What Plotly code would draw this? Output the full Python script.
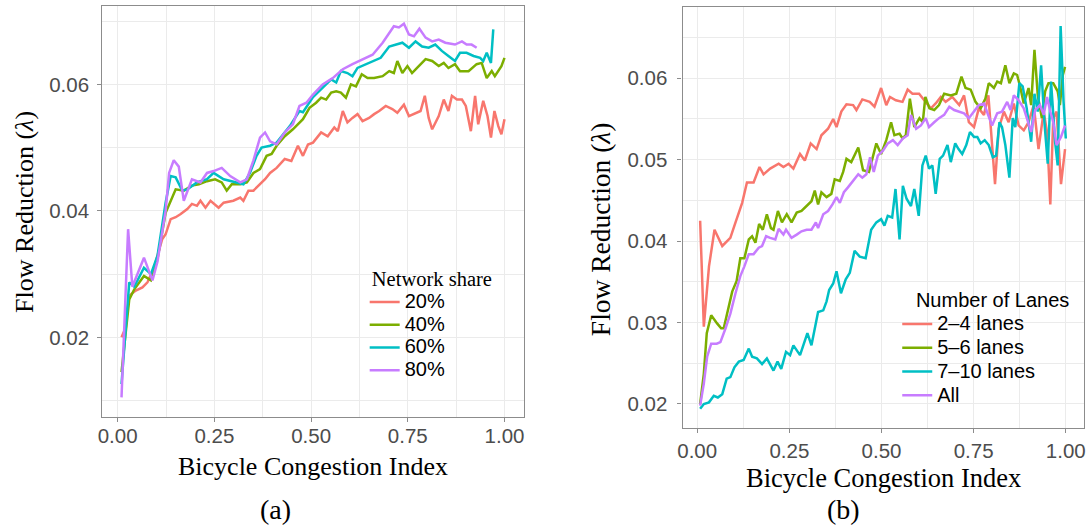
import plotly.graph_objects as go

# ---------------- data: panel (a) ----------------
x20 = [0.010,0.019,0.030,0.047,0.064,0.077,0.094,0.115,0.124,0.137,0.150,0.163,0.180,0.192,0.205,0.214,0.227,0.240,0.261,0.274,0.299,0.317,0.325,0.338,0.351,0.368,0.381,0.394,0.411,0.432,0.449,0.466,0.479,0.492,0.505,0.526,0.543,0.560,0.569,0.582,0.594,0.607,0.620,0.633,0.650,0.663,0.676,0.693,0.710,0.723,0.740,0.753,0.770,0.783,0.794,0.804,0.813,0.830,0.843,0.855,0.864,0.877,0.890,0.900,0.913,0.924,0.932,0.945,0.956,0.965,0.974,0.984,0.992,1.000]
y20 = [0.0200,0.0213,0.0266,0.0274,0.0279,0.0287,0.0310,0.0355,0.0363,0.0387,0.0390,0.0395,0.0403,0.0411,0.0408,0.0416,0.0405,0.0416,0.0405,0.0413,0.0416,0.0421,0.0416,0.0432,0.0432,0.0442,0.0450,0.0460,0.0468,0.0482,0.0479,0.0503,0.0487,0.0505,0.0508,0.0524,0.0518,0.0532,0.0526,0.0558,0.0540,0.0547,0.0553,0.0542,0.0547,0.0553,0.0558,0.0566,0.0561,0.0555,0.0568,0.0550,0.0555,0.0558,0.0582,0.0547,0.0529,0.0550,0.0576,0.0558,0.0582,0.0576,0.0576,0.0566,0.0526,0.0582,0.0537,0.0574,0.0550,0.0516,0.0558,0.0534,0.0521,0.0545]

x40 = [0.010,0.030,0.043,0.068,0.086,0.103,0.124,0.137,0.150,0.171,0.192,0.210,0.231,0.252,0.269,0.282,0.295,0.317,0.334,0.351,0.368,0.385,0.398,0.411,0.432,0.453,0.479,0.496,0.513,0.526,0.539,0.552,0.565,0.577,0.590,0.603,0.616,0.631,0.646,0.663,0.685,0.702,0.714,0.723,0.736,0.749,0.761,0.774,0.796,0.813,0.830,0.843,0.855,0.872,0.885,0.907,0.928,0.941,0.954,0.967,0.975,0.992,1.000]
y40 = [0.0145,0.0260,0.0276,0.0297,0.0290,0.0324,0.0397,0.0416,0.0434,0.0432,0.0440,0.0442,0.0447,0.0450,0.0445,0.0432,0.0442,0.0442,0.0445,0.0460,0.0466,0.0487,0.0490,0.0503,0.0518,0.0529,0.0545,0.0563,0.0571,0.0579,0.0576,0.0587,0.0589,0.0587,0.0579,0.0600,0.0597,0.0616,0.0610,0.0610,0.0613,0.0621,0.0618,0.0637,0.0618,0.0629,0.0618,0.0626,0.0640,0.0637,0.0629,0.0634,0.0626,0.0632,0.0621,0.0621,0.0632,0.0634,0.0610,0.0621,0.0613,0.0629,0.0642]

x60 = [0.010,0.030,0.043,0.068,0.086,0.103,0.124,0.137,0.150,0.167,0.180,0.205,0.231,0.248,0.274,0.308,0.325,0.342,0.359,0.372,0.394,0.411,0.428,0.445,0.470,0.479,0.505,0.530,0.552,0.565,0.577,0.594,0.607,0.620,0.650,0.680,0.702,0.719,0.736,0.753,0.770,0.787,0.804,0.821,0.838,0.855,0.872,0.885,0.902,0.920,0.937,0.945,0.954,0.965,0.971]
y60 = [0.0126,0.0287,0.0280,0.0310,0.0300,0.0329,0.0413,0.0455,0.0453,0.0432,0.0434,0.0445,0.0450,0.0460,0.0450,0.0445,0.0442,0.0460,0.0487,0.0500,0.0503,0.0508,0.0521,0.0534,0.0558,0.0556,0.0580,0.0595,0.0608,0.0603,0.0621,0.0618,0.0613,0.0626,0.0634,0.0642,0.0660,0.0663,0.0666,0.0658,0.0668,0.0660,0.0658,0.0663,0.0653,0.0645,0.0637,0.0650,0.0650,0.0645,0.0642,0.0637,0.0650,0.0634,0.0687]

x80 = [0.010,0.027,0.038,0.068,0.090,0.103,0.124,0.133,0.145,0.158,0.171,0.192,0.214,0.231,0.248,0.269,0.291,0.317,0.334,0.351,0.368,0.381,0.394,0.411,0.432,0.453,0.470,0.488,0.505,0.530,0.556,0.582,0.607,0.633,0.659,0.685,0.706,0.714,0.727,0.740,0.753,0.766,0.780,0.796,0.813,0.830,0.847,0.872,0.890,0.902,0.915,0.928]
y80 = [0.0105,0.0371,0.0280,0.0326,0.0290,0.0320,0.0400,0.0460,0.0480,0.0470,0.0416,0.0450,0.0445,0.0460,0.0463,0.0468,0.0455,0.0445,0.0450,0.0480,0.0516,0.0524,0.0510,0.0505,0.0524,0.0537,0.0566,0.0571,0.0584,0.0600,0.0610,0.0624,0.0632,0.0640,0.0647,0.0666,0.0684,0.0692,0.0690,0.0696,0.0679,0.0676,0.0688,0.0674,0.0668,0.0671,0.0666,0.0663,0.0668,0.0663,0.0663,0.0658]

share_names = ["20%", "40%", "60%", "80%"]

# ---------------- data: panel (b) ----------------
x24 = [0.008,0.018,0.032,0.047,0.068,0.090,0.104,0.122,0.135,0.153,0.169,0.180,0.198,0.221,0.234,0.248,0.261,0.279,0.292,0.308,0.324,0.337,0.355,0.369,0.378,0.391,0.405,0.423,0.432,0.448,0.468,0.481,0.499,0.513,0.523,0.539,0.557,0.571,0.584,0.602,0.616,0.634,0.647,0.661,0.674,0.692,0.711,0.724,0.737,0.751,0.764,0.778,0.790,0.800,0.808,0.818,0.832,0.845,0.859,0.872,0.886,0.899,0.913,0.926,0.940,0.949,0.958,0.966,0.975,0.987,0.998]
y24 = [0.0425,0.0295,0.0369,0.0414,0.0394,0.0404,0.0423,0.0447,0.0472,0.0472,0.0491,0.0482,0.0489,0.0495,0.0491,0.0495,0.0489,0.0507,0.0499,0.0520,0.0513,0.0530,0.0538,0.0550,0.0540,0.0559,0.0568,0.0567,0.0561,0.0574,0.0571,0.0565,0.0588,0.0567,0.0577,0.0573,0.0571,0.0586,0.0581,0.0581,0.0573,0.0563,0.0569,0.0577,0.0571,0.0577,0.0567,0.0579,0.0546,0.0540,0.0563,0.0555,0.0579,0.0522,0.0470,0.0538,0.0559,0.0546,0.0569,0.0542,0.0536,0.0546,0.0567,0.0513,0.0559,0.0534,0.0445,0.0551,0.0559,0.0470,0.0513]

x56 = [0.008,0.018,0.026,0.038,0.054,0.065,0.072,0.086,0.095,0.107,0.117,0.128,0.140,0.149,0.158,0.168,0.178,0.189,0.200,0.207,0.219,0.230,0.243,0.256,0.270,0.283,0.297,0.310,0.319,0.328,0.337,0.351,0.364,0.373,0.387,0.396,0.405,0.418,0.437,0.450,0.466,0.477,0.486,0.499,0.513,0.526,0.535,0.549,0.557,0.566,0.577,0.589,0.603,0.612,0.619,0.630,0.643,0.656,0.670,0.688,0.703,0.717,0.728,0.742,0.755,0.769,0.782,0.791,0.805,0.814,0.824,0.836,0.847,0.859,0.868,0.877,0.886,0.899,0.906,0.915,0.924,0.935,0.944,0.953,0.966,0.978,0.984,0.992,0.998]
y56 = [0.0200,0.0237,0.0287,0.0309,0.0299,0.0293,0.0293,0.0320,0.0338,0.0351,0.0379,0.0379,0.0402,0.0406,0.0398,0.0421,0.0414,0.0433,0.0416,0.0414,0.0437,0.0423,0.0433,0.0423,0.0435,0.0437,0.0443,0.0449,0.0462,0.0445,0.0460,0.0454,0.0458,0.0476,0.0474,0.0485,0.0501,0.0497,0.0515,0.0487,0.0485,0.0505,0.0520,0.0507,0.0524,0.0546,0.0530,0.0532,0.0526,0.0530,0.0575,0.0540,0.0551,0.0546,0.0577,0.0563,0.0561,0.0567,0.0581,0.0579,0.0581,0.0602,0.0588,0.0586,0.0571,0.0563,0.0575,0.0594,0.0588,0.0596,0.0594,0.0616,0.0594,0.0606,0.0604,0.0588,0.0569,0.0588,0.0567,0.0635,0.0579,0.0551,0.0584,0.0594,0.0594,0.0584,0.0567,0.0604,0.0614]

x710 = [0.008,0.018,0.032,0.045,0.056,0.068,0.080,0.090,0.101,0.113,0.126,0.140,0.149,0.162,0.176,0.189,0.207,0.218,0.228,0.241,0.252,0.261,0.279,0.299,0.310,0.328,0.342,0.351,0.358,0.369,0.378,0.390,0.403,0.414,0.427,0.441,0.457,0.472,0.486,0.499,0.508,0.517,0.529,0.538,0.549,0.558,0.568,0.580,0.589,0.601,0.611,0.620,0.629,0.638,0.647,0.658,0.667,0.679,0.688,0.700,0.709,0.719,0.730,0.740,0.751,0.760,0.769,0.780,0.791,0.802,0.811,0.820,0.827,0.836,0.847,0.856,0.863,0.874,0.883,0.894,0.906,0.915,0.924,0.933,0.942,0.951,0.960,0.971,0.978,0.986,0.994,1.000]
y710 = [0.0194,0.0200,0.0202,0.0210,0.0208,0.0212,0.0231,0.0233,0.0245,0.0252,0.0254,0.0268,0.0258,0.0256,0.0249,0.0256,0.0241,0.0252,0.0243,0.0264,0.0260,0.0272,0.0260,0.0287,0.0272,0.0313,0.0315,0.0326,0.0340,0.0348,0.0363,0.0336,0.0353,0.0361,0.0388,0.0381,0.0379,0.0414,0.0423,0.0427,0.0419,0.0431,0.0429,0.0464,0.0402,0.0468,0.0452,0.0443,0.0464,0.0431,0.0493,0.0505,0.0489,0.0493,0.0458,0.0501,0.0505,0.0518,0.0497,0.0520,0.0513,0.0507,0.0518,0.0534,0.0528,0.0528,0.0520,0.0524,0.0518,0.0503,0.0505,0.0546,0.0540,0.0518,0.0478,0.0551,0.0540,0.0594,0.0590,0.0563,0.0522,0.0581,0.0559,0.0616,0.0546,0.0495,0.0596,0.0522,0.0493,0.0664,0.0571,0.0526]

xall = [0.008,0.018,0.027,0.038,0.053,0.063,0.077,0.090,0.104,0.117,0.128,0.140,0.153,0.167,0.176,0.187,0.198,0.212,0.221,0.234,0.241,0.256,0.270,0.283,0.297,0.310,0.322,0.328,0.342,0.355,0.367,0.378,0.387,0.398,0.409,0.423,0.437,0.448,0.459,0.469,0.479,0.490,0.504,0.517,0.531,0.544,0.558,0.571,0.580,0.594,0.607,0.620,0.629,0.643,0.656,0.670,0.684,0.697,0.711,0.724,0.737,0.751,0.764,0.778,0.787,0.800,0.814,0.827,0.841,0.850,0.859,0.872,0.886,0.895,0.906,0.917,0.930,0.940,0.949,0.958,0.966,0.975,0.987,0.998]
yall = [0.0198,0.0225,0.0258,0.0274,0.0274,0.0276,0.0293,0.0311,0.0336,0.0357,0.0369,0.0384,0.0384,0.0392,0.0394,0.0406,0.0404,0.0402,0.0415,0.0408,0.0414,0.0404,0.0408,0.0412,0.0414,0.0414,0.0423,0.0416,0.0433,0.0437,0.0445,0.0454,0.0447,0.0460,0.0466,0.0474,0.0482,0.0478,0.0482,0.0503,0.0485,0.0505,0.0511,0.0520,0.0524,0.0518,0.0526,0.0530,0.0555,0.0538,0.0542,0.0551,0.0540,0.0546,0.0551,0.0555,0.0565,0.0561,0.0559,0.0557,0.0551,0.0559,0.0567,0.0569,0.0557,0.0542,0.0557,0.0559,0.0571,0.0561,0.0579,0.0573,0.0563,0.0551,0.0534,0.0561,0.0567,0.0555,0.0577,0.0559,0.0546,0.0518,0.0528,0.0542]

lane_names = ["2\u20134 lanes", "5\u20136 lanes", "7\u201310 lanes", "All"]

xtick_vals = [0, 0.25, 0.5, 0.75, 1.0]
xtick_text = ["0.00", "0.25", "0.50", "0.75", "1.00"]
ytick_a = [0.02, 0.04, 0.06]
ytick_b = [0.02, 0.03, 0.04, 0.05, 0.06]

# ---------------- styling ----------------
COLORS = ["#F8766D", "#7CAE00", "#00BFC4", "#C77CFF"]
SANS = "Liberation Sans, Arial, sans-serif"
SERIF = "Liberation Serif, Times New Roman, serif"
W, H = 1092, 528
GRID = "#EBEBEB"
BORDER = "#8C8C8C"
TICKC = "#4D4D4D"

def fx(p):
    return p / W

def fy(p):
    return 1 - p / H

def big(label, size):
    return '<span style="font-size:%dpx">%s</span>' % (size, label)

fig = go.Figure()
for xs, ys, name, c in zip([x20, x40, x60, x80], [y20, y40, y60, y80], share_names, COLORS):
    fig.add_trace(go.Scatter(x=xs, y=ys, mode="lines", name=big(name, 20),
                             line=dict(color=c, width=2.5),
                             xaxis="x", yaxis="y", legend="legend"))
for xs, ys, name, c in zip([x24, x56, x710, xall], [y24, y56, y710, yall], lane_names, COLORS):
    fig.add_trace(go.Scatter(x=xs, y=ys, mode="lines", name=big(name, 20),
                             line=dict(color=c, width=2.5),
                             xaxis="x2", yaxis="y2", legend="legend2"))

def axis_common():
    return dict(showline=True, mirror=True, linecolor=BORDER, linewidth=1.3,
                ticks="outside", ticklen=4, tickwidth=1.2, tickcolor=BORDER,
                showgrid=True, gridcolor=GRID, gridwidth=1.2, zeroline=False,
                tickfont=dict(family=SANS, size=20.5, color=TICKC))

minor_x = dict(tickvals=[0.125, 0.375, 0.625, 0.875], showgrid=True,
               gridcolor=GRID, gridwidth=0.7, ticks="")

xa = axis_common()
xa.update(domain=[fx(98), fx(522)], range=[-0.0395, 1.0495], anchor="y",
          tickvals=xtick_vals, ticktext=xtick_text, ticklabelstandoff=-3, minor=minor_x)
ya = axis_common()
ya.update(domain=[fy(416.7), fy(6)], range=[0.00745, 0.0724], anchor="x",
          tickvals=ytick_a, ticktext=["0.02", "0.04", "0.06"], ticklabelstandoff=4,
          minor=dict(tickvals=[0.01, 0.03, 0.05, 0.07], showgrid=True,
                     gridcolor=GRID, gridwidth=0.7, ticks=""))
xb = axis_common()
xb.update(domain=[fx(682), fx(1086)], range=[-0.0395, 1.0495], anchor="y2",
          tickvals=xtick_vals, ticktext=xtick_text, minor=minor_x)
yb = axis_common()
yb.update(domain=[fy(428), fy(7)], range=[0.01705, 0.06875], anchor="x2",
          tickvals=ytick_b, ticktext=["0.02", "0.03", "0.04", "0.05", "0.06"], ticklabelstandoff=6,
          minor=dict(tickvals=[0.025, 0.035, 0.045, 0.055, 0.065], showgrid=True,
                     gridcolor=GRID, gridwidth=0.7, ticks=""))

annots = [
    dict(text="Flow Reduction (<i>\u03bb</i>)", x=fx(19), y=fy(212), textangle=-90,
         font=dict(family=SERIF, size=26, color="black")),
    dict(text="Bicycle Congestion Index", x=fx(310), y=fy(466),
         font=dict(family=SERIF, size=26, color="black")),
    dict(text="(a)", x=fx(272), y=fy(509), font=dict(family=SERIF, size=28, color="black")),
    dict(text="Flow Reduction (<i>\u03bb</i>)", x=fx(599), y=fy(229), textangle=-90,
         font=dict(family=SERIF, size=27.5, color="black")),
    dict(text="Bicycle Congestion Index", x=fx(884), y=fy(478),
         font=dict(family=SERIF, size=26.5, color="black")),
    dict(text="(b)", x=fx(844), y=fy(509), font=dict(family=SERIF, size=28, color="black")),
]
for a in annots:
    a.update(xref="paper", yref="paper", showarrow=False, xanchor="center", yanchor="middle")

fig.update_layout(
    width=W, height=H, margin=dict(l=0, r=0, t=0, b=0),
    paper_bgcolor="white", plot_bgcolor="white",
    xaxis=xa, yaxis=ya, xaxis2=xb, yaxis2=yb,
    annotations=annots,
    legend=dict(x=fx(362), y=fy(259), xanchor="left", yanchor="top",
                bgcolor="rgba(0,0,0,0)", borderwidth=0,
                font=dict(family=SANS, size=15.2, color="black"),
                title=dict(text="\u00a0Network share", font=dict(family=SERIF, size=20.5, color="black"))),
    legend2=dict(x=fx(898), y=fy(281), xanchor="left", yanchor="top",
                 bgcolor="rgba(0,0,0,0)", borderwidth=0,
                 font=dict(family=SANS, size=16, color="black"),
                 title=dict(text="\u00a0\u00a0\u00a0Number of Lanes", font=dict(family=SANS, size=20, color="black"))),
)

fig.write_html("out.html")
